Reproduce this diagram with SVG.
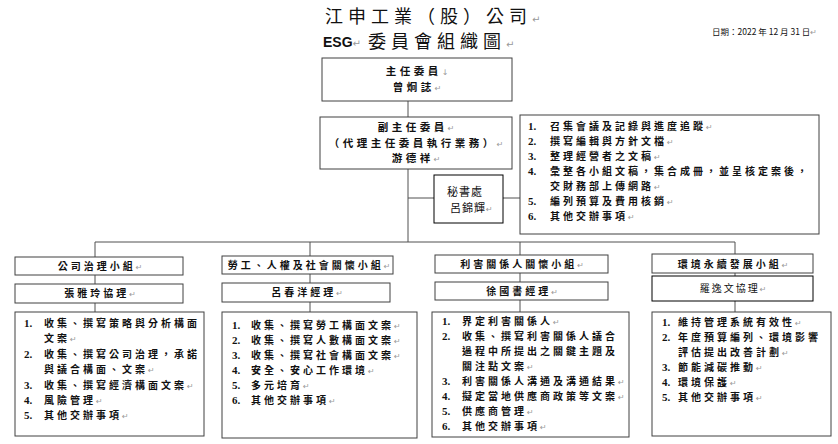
<svg xmlns="http://www.w3.org/2000/svg" width="838" height="444" viewBox="0 0 838 444">
<style>
.bx{fill:#fff;stroke:#404040;stroke-width:1}
.c{stroke:#505050;stroke-width:1;fill:none}
.t{font-family:"Noto Sans CJK TC","Noto Sans CJK SC",sans-serif;font-weight:700;font-size:10px;letter-spacing:3px;fill:#111}
.h{font-family:"Noto Sans CJK TC",sans-serif;font-weight:700;font-size:10.5px;letter-spacing:3.5px;fill:#111}
.m{text-anchor:middle}
.n{font-family:"Liberation Serif",serif;font-weight:700;font-size:11px;letter-spacing:0}
.pm{font-family:"DejaVu Sans",sans-serif;font-weight:400;font-size:8px;fill:#999;letter-spacing:0}
</style>
<rect width="838" height="444" fill="#fff"/>
<g id="title">
<text x="325" y="23" style="font-family:'Noto Sans CJK TC',serif;font-size:18px;letter-spacing:5px;fill:#111">江申工業（股）公司<tspan class="pm" style="font-size:10px">↵</tspan></text>
<text x="323" y="47" style="font-family:'Liberation Sans',sans-serif;font-weight:700;font-size:14px;fill:#111">ESG<tspan class="pm" style="font-size:10px">↵</tspan></text>
<text x="368" y="48" style="font-family:'Noto Sans CJK TC',serif;font-size:18px;letter-spacing:5px;fill:#111">委員會組織圖<tspan class="pm" style="font-size:10px">↵</tspan></text>
<text x="712" y="35" style="font-family:'Noto Sans CJK TC',sans-serif;font-size:8.5px;fill:#111">日期：2022 年 12 月 31 日<tspan class="pm">↵</tspan></text>
</g>
<g id="connectors">
<path class="c" d="M408 101V117M408 169V242M408 198H434M503 198H520M95 242H735M95 242V257M310 242V256M520 242V255M735 242V254M95 275V284M310 274V283M520 273V282M735 273V276M95 303V312M310 302V312M520 300V312M735 301V312"/>
</g>
<g id="chair">
<rect class="bx" x="322" y="58" width="190" height="43"/>
<text class="h m" x="417" y="75">主任委員<tspan class="pm">↓</tspan></text>
<text class="h m" x="417" y="91">曾炯誌<tspan class="pm">↵</tspan></text>
</g>
<g id="vicechair">
<rect class="bx" x="320" y="117" width="192" height="52"/>
<text class="h m" x="416" y="131">副主任委員<tspan class="pm">↵</tspan></text>
<text class="h m" x="416" y="146.5">（代理主任委員執行業務）<tspan class="pm">↵</tspan></text>
<text class="h m" x="416" y="162">游德祥<tspan class="pm">↵</tspan></text>
</g>
<g id="secretariat">
<rect class="bx" x="434" y="175" width="69" height="48" style="stroke:#000"/>
<text class="h" x="447" y="196" style="letter-spacing:1px;font-weight:400;font-size:11px">秘書處</text>
<text class="h" x="450" y="212" style="letter-spacing:1px;font-weight:400;font-size:11px">呂錦輝<tspan class="pm">↵</tspan></text>
</g>
<g id="secretariat-duties">
<rect class="bx" x="520" y="115" width="299" height="119"/>
<text class="t" x="528" y="130"><tspan class="n">1.</tspan><tspan x="550">召集會議及記錄與進度追蹤</tspan><tspan class="pm">↵</tspan></text>
<text class="t" x="528" y="145"><tspan class="n">2.</tspan><tspan x="550">撰寫編輯與方針文檔</tspan><tspan class="pm">↵</tspan></text>
<text class="t" x="528" y="160"><tspan class="n">3.</tspan><tspan x="550">整理經營者之文稿</tspan><tspan class="pm">↵</tspan></text>
<text class="t" x="528" y="175"><tspan class="n">4.</tspan><tspan x="550">彙整各小組文稿，集合成冊，並呈核定案後，</tspan></text>
<text class="t" x="550" y="190">交財務部上傳網路<tspan class="pm">↵</tspan></text>
<text class="t" x="528" y="205"><tspan class="n">5.</tspan><tspan x="550">編列預算及費用核銷</tspan><tspan class="pm">↵</tspan></text>
<text class="t" x="528" y="220"><tspan class="n">6.</tspan><tspan x="550">其他交辦事項</tspan><tspan class="pm">↵</tspan></text>
</g>
<g id="group-governance">
<rect class="bx" x="15" y="257" width="168" height="18"/>
<text class="t m" x="100" y="270">公司治理小組<tspan class="pm">↵</tspan></text>
<rect class="bx" x="15" y="284" width="168" height="19"/>
<text class="t m" x="100" y="297">張雅玲協理<tspan class="pm">↵</tspan></text>
<rect class="bx" x="15" y="312" width="189" height="124"/>
<text class="t" x="24" y="327"><tspan class="n">1.</tspan><tspan x="44">收集、撰寫策略與分析構面</tspan></text>
<text class="t" x="44" y="342">文案<tspan class="pm">↵</tspan></text>
<text class="t" x="24" y="358"><tspan class="n">2.</tspan><tspan x="44">收集、撰寫公司治理，承諾</tspan></text>
<text class="t" x="44" y="373">與議合構面、文案<tspan class="pm">↵</tspan></text>
<text class="t" x="24" y="389"><tspan class="n">3.</tspan><tspan x="44">收集、撰寫經濟構面文案</tspan><tspan class="pm">↵</tspan></text>
<text class="t" x="24" y="404"><tspan class="n">4.</tspan><tspan x="44">風險管理</tspan><tspan class="pm">↵</tspan></text>
<text class="t" x="24" y="419"><tspan class="n">5.</tspan><tspan x="44">其他交辦事項</tspan><tspan class="pm">↵</tspan></text>
</g>
<g id="group-labor">
<rect class="bx" x="222" y="256" width="171" height="18"/>
<text class="t m" x="309" y="269">勞工、人權及社會關懷小組<tspan class="pm">↵</tspan></text>
<rect class="bx" x="222" y="283" width="168" height="19"/>
<text class="t m" x="307" y="296">呂春洋經理<tspan class="pm">↵</tspan></text>
<rect class="bx" x="222" y="312" width="195" height="126"/>
<text class="t" x="232" y="329"><tspan class="n">1.</tspan><tspan x="251">收集、撰寫勞工構面文案</tspan><tspan class="pm">↵</tspan></text>
<text class="t" x="232" y="344"><tspan class="n">2.</tspan><tspan x="251">收集、撰寫人數構面文案</tspan><tspan class="pm">↵</tspan></text>
<text class="t" x="232" y="359"><tspan class="n">3.</tspan><tspan x="251">收集、撰寫社會構面文案</tspan><tspan class="pm">↵</tspan></text>
<text class="t" x="232" y="374"><tspan class="n">4.</tspan><tspan x="251">安全、安心工作環境</tspan><tspan class="pm">↵</tspan></text>
<text class="t" x="232" y="389"><tspan class="n">5.</tspan><tspan x="251">多元培育</tspan><tspan class="pm">↵</tspan></text>
<text class="t" x="232" y="404"><tspan class="n">6.</tspan><tspan x="251">其他交辦事項</tspan><tspan class="pm">↵</tspan></text>
</g>
<g id="group-stakeholder">
<rect class="bx" x="435" y="255" width="173" height="18"/>
<text class="t m" x="522" y="268">利害關係人關懷小組<tspan class="pm">↵</tspan></text>
<rect class="bx" x="435" y="282" width="173" height="18"/>
<text class="t m" x="522" y="295">徐國書經理<tspan class="pm">↵</tspan></text>
<rect class="bx" x="432" y="312" width="197" height="125"/>
<text class="t" x="442" y="325"><tspan class="n">1.</tspan><tspan x="462">界定利害關係人</tspan><tspan class="pm">↵</tspan></text>
<text class="t" x="442" y="340"><tspan class="n">2.</tspan><tspan x="462">收集、撰寫利害關係人議合</tspan></text>
<text class="t" x="462" y="355">過程中所提出之關鍵主題及</text>
<text class="t" x="462" y="370">關注點文案<tspan class="pm">↵</tspan></text>
<text class="t" x="442" y="385"><tspan class="n">3.</tspan><tspan x="462">利害關係人溝通及溝通結果</tspan><tspan class="pm">↵</tspan></text>
<text class="t" x="442" y="400"><tspan class="n">4.</tspan><tspan x="462">擬定當地供應商政策等文案</tspan><tspan class="pm">↵</tspan></text>
<text class="t" x="442" y="415"><tspan class="n">5.</tspan><tspan x="462">供應商管理</tspan><tspan class="pm">↵</tspan></text>
<text class="t" x="442" y="430"><tspan class="n">6.</tspan><tspan x="462">其他交辦事項</tspan><tspan class="pm">↵</tspan></text>
</g>
<g id="group-environment">
<rect class="bx" x="652" y="254" width="161" height="19"/>
<text class="t m" x="733" y="268">環境永續發展小組<tspan class="pm">↵</tspan></text>
<rect class="bx" x="652" y="276" width="161" height="25" style="stroke:#000"/>
<text class="t m" x="733" y="292" style="font-weight:400;letter-spacing:2px">羅逸文協理<tspan class="pm">↵</tspan></text>
<rect class="bx" x="652" y="312" width="179" height="124"/>
<text class="t" x="662" y="326"><tspan class="n">1.</tspan><tspan x="678">維持管理系統有效性</tspan><tspan class="pm">↵</tspan></text>
<text class="t" x="662" y="341"><tspan class="n">2.</tspan><tspan x="678">年度預算編列、環境影響</tspan></text>
<text class="t" x="678" y="356">評估提出改善計劃<tspan class="pm">↵</tspan></text>
<text class="t" x="662" y="371"><tspan class="n">3.</tspan><tspan x="678">節能減碳推動</tspan><tspan class="pm">↵</tspan></text>
<text class="t" x="662" y="386"><tspan class="n">4.</tspan><tspan x="678">環境保護</tspan><tspan class="pm">↵</tspan></text>
<text class="t" x="662" y="401"><tspan class="n">5.</tspan><tspan x="678">其他交辦事項</tspan><tspan class="pm">↵</tspan></text>
</g>
</svg>
